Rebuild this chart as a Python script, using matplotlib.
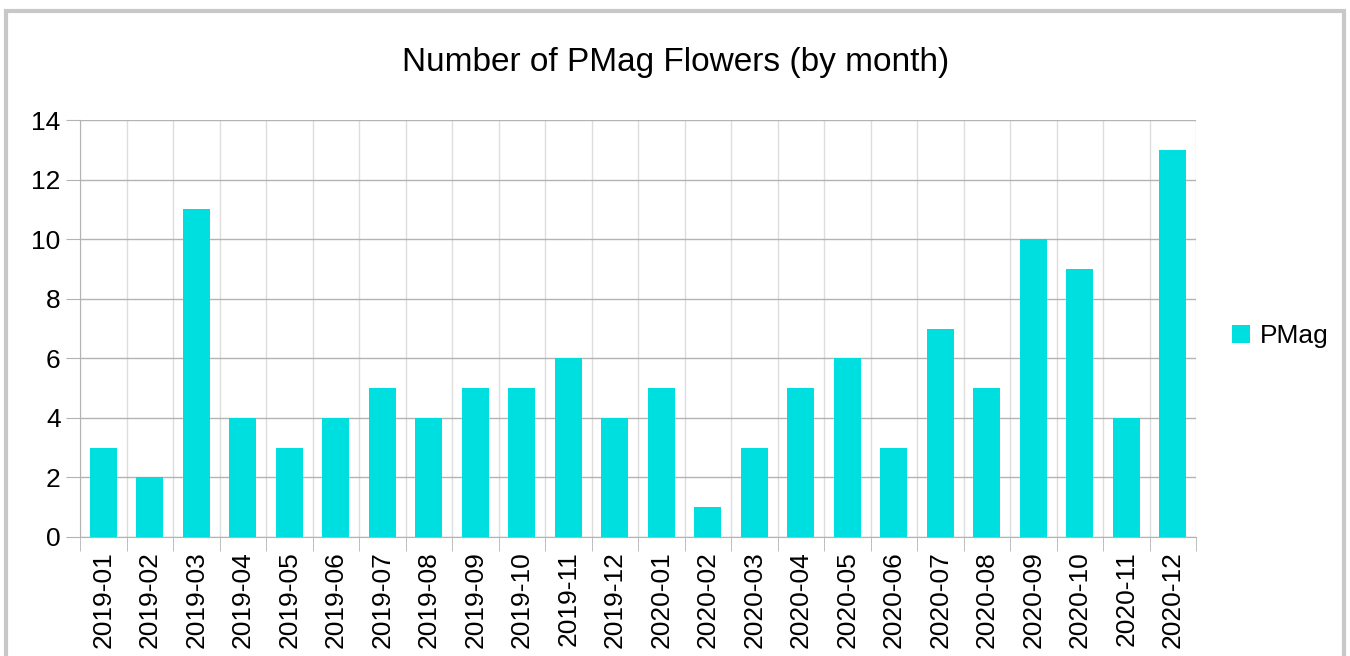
import matplotlib.pyplot as plt
from matplotlib.patches import Rectangle

# data
months = ["2019-01", "2019-02", "2019-03", "2019-04", "2019-05", "2019-06",
          "2019-07", "2019-08", "2019-09", "2019-10", "2019-11", "2019-12",
          "2020-01", "2020-02", "2020-03", "2020-04", "2020-05", "2020-06",
          "2020-07", "2020-08", "2020-09", "2020-10", "2020-11", "2020-12"]
pmag = [3, 2, 11, 4, 3, 4, 5, 4, 5, 5, 6, 4, 5, 1, 3, 5, 6, 3, 7, 5, 10, 9, 4, 13]

plt.rcParams['font.family'] = ['Liberation Sans', 'DejaVu Sans']

fig = plt.figure(figsize=(13.5, 6.56), dpi=100)
W, H = 1350, 656
ax = fig.add_axes([80 / W, 1 - 537 / H, (1196 - 80) / W, (537 - 120) / H])

x = range(len(months))
ax.bar(x, pmag, width=0.58, color="#00dfe0", label="PMag", zorder=3)

ax.set_xlim(-0.5, len(months) - 0.5)
ax.set_ylim(0, 14)
ax.set_yticks(range(0, 15, 2))
ax.set_xticks(x)
ax.set_xticklabels(months, rotation=90, fontsize=19)
ax.tick_params(axis='y', labelsize=19, length=10, color="#b3b3b3", pad=4)
ax.tick_params(axis='x', length=0, pad=10)

# category boundaries as minor ticks + vertical grid
ax.set_xticks([i - 0.5 for i in range(len(months) + 1)], minor=True)
ax.tick_params(axis='x', which='minor', length=10, color="#b3b3b3")
ax.grid(axis='x', which='minor', color="#dddddd", lw=1, zorder=0)
ax.grid(axis='y', which='major', color="#b3b3b3", lw=1, zorder=0)

for s in ax.spines.values():
    s.set_visible(False)
ax.spines['left'].set_visible(True)
ax.spines['bottom'].set_visible(True)
ax.spines['left'].set_color("#b3b3b3")
ax.spines['bottom'].set_color("#b3b3b3")

fig.text(676 / W, 1 - 63 / H, "Number of PMag Flowers (by month)",
         ha='center', va='center', fontsize=24)

ax.legend(loc='center left', bbox_to_anchor=(1208 / W, 1 - 336 / H),
          bbox_transform=fig.transFigure, frameon=False, fontsize=19,
          handlelength=0.7, handleheight=0.7, handletextpad=0.35)

# outer frame
fig.patches.append(Rectangle((6 / W, -0.05), (1338) / W, 1 - 11 / H + 0.05,
                             transform=fig.transFigure, fill=False,
                             edgecolor="#c8c8c8", lw=3))

fig.savefig("out.png", dpi=100)
